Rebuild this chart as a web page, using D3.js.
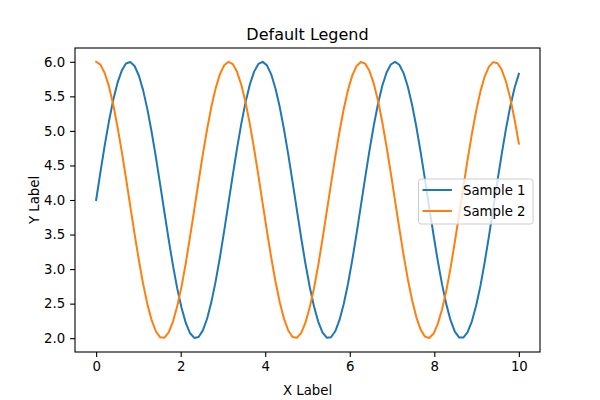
<!DOCTYPE html>
<html><head><meta charset="utf-8">
<script src="https://cdn.jsdelivr.net/npm/d3@7"></script>
<style>body{margin:0;background:#fff}svg{display:block;font-family:"DejaVu Sans",sans-serif}</style>
</head><body><svg id="c" width="600" height="400"></svg>
<script>
const seriesNames = ["Sample 1", "Sample 2"];
const colors = ["#1f77b4", "#ff7f0e"];
const xTicks = [0, 2, 4, 6, 8, 10];
const yTicks = [2.0, 2.5, 3.0, 3.5, 4.0, 4.5, 5.0, 5.5, 6.0];
const xStart = 0, xEnd = 10, nPoints = 100;
const sample1 = [4.000,4.401,4.786,5.139,5.446,5.695,5.873,5.976,5.998,5.939,
5.802,5.590,5.315,4.985,4.617,4.222,3.819,3.422,3.049,2.717,
2.441,2.221,2.071,2.004,2.018,2.113,2.285,2.526,2.826,3.175,
3.558,3.959,4.361,4.748,5.105,5.417,5.671,5.858,5.969,5.999,
5.949,5.819,5.615,5.345,5.021,4.656,4.263,3.860,3.461,3.085,
2.749,2.467,2.240,2.083,2.007,2.013,2.100,2.264,2.498,2.792,
3.137,3.517,3.918,4.320,4.710,5.071,5.388,5.649,5.842,5.961,
6.000,5.958,5.836,5.639,5.375,5.056,4.694,4.303,3.901,3.501,
3.122,2.782,2.493,2.260,2.095,2.011,2.009,2.088,2.244,2.472,
2.757,3.101,3.478,3.877,4.280,4.671,5.036,5.358,5.625,5.826];
const sample2 = [6.000,5.959,5.839,5.644,5.382,5.062,4.701,4.312,3.909,3.511,
3.132,2.787,2.493,2.260,2.097,2.012,2.008,2.085,2.241,2.465,
2.747,3.087,3.471,3.868,4.271,4.663,5.028,5.352,5.619,5.822,
5.951,6.000,5.967,5.855,5.667,5.411,5.098,4.740,4.353,3.950,
3.551,3.168,2.821,2.520,2.280,2.111,2.017,2.005,2.074,2.221,
2.439,2.716,3.050,3.431,3.827,4.230,4.624,4.992,5.320,5.595,
5.804,5.941,5.998,5.974,5.870,5.689,5.440,5.132,4.778,4.394,
3.992,3.591,3.206,2.854,2.548,2.302,2.124,2.023,2.002,2.063,
2.203,2.414,2.685,3.014,3.392,3.786,4.190,4.585,4.957,5.290,
5.570,5.787,5.931,5.996,5.980,5.884,5.711,5.468,5.166,4.816];

const svg = d3.select("#c");
const L = 75, R = 540, T = 48, B = 352;
const x = d3.scaleLinear().domain([-0.5, 10.5]).range([L, R]);
const y = d3.scaleLinear().domain([1.8, 6.2]).range([B, T]);
const xs = d3.range(nPoints).map(i => xStart + (xEnd - xStart) * i / (nPoints - 1));

const xAxis = svg.append("g").attr("transform", `translate(0,${B})`)
  .call(d3.axisBottom(x).tickValues(xTicks).tickFormat(d3.format("d")).tickSizeOuter(0).tickSize(4.9).tickPadding(4.9));
const yAxis = svg.append("g").attr("transform", `translate(${L},0)`)
  .call(d3.axisLeft(y).tickValues(yTicks).tickFormat(d3.format(".1f")).tickSizeOuter(0).tickSize(4.9).tickPadding(4.9));
[xAxis, yAxis].forEach(g => {
  g.select(".domain").remove();
  g.selectAll("line").attr("stroke", "#000").attr("stroke-width", 1.1);
  g.selectAll("text").attr("font-size", "13.3px").attr("fill", "#000").attr("font-family", "DejaVu Sans");
});

const line = d3.line().x((d, i) => x(xs[i])).y(d => y(d));
[sample1, sample2].forEach((s, k) => {
  svg.append("path").datum(s).attr("d", line).attr("fill", "none")
    .attr("stroke", colors[k]).attr("stroke-width", 2).attr("stroke-linejoin", "round").attr("stroke-linecap", "square");
});

svg.append("rect").attr("x", L).attr("y", T).attr("width", R - L).attr("height", B - T)
  .attr("fill", "none").attr("stroke", "#000").attr("stroke-width", 1.1);

svg.append("text").attr("x", (L + R) / 2).attr("y", T - 8).attr("text-anchor", "middle")
  .attr("font-size", "16px").text("Default Legend");
svg.append("text").attr("x", (L + R) / 2).attr("y", 395).attr("text-anchor", "middle")
  .attr("font-size", "13.3px").text("X Label");
svg.append("text").attr("transform", `translate(39,${(T + B) / 2}) rotate(-90)`).attr("text-anchor", "middle")
  .attr("font-size", "13.3px").text("Y Label");

const lg = svg.append("g");
const lgW = 114.5, lgH = 45, lgX = 418.5, lgY = 179;
lg.append("rect").attr("x", lgX).attr("y", lgY).attr("width", lgW).attr("height", lgH).attr("rx", 2.5)
  .attr("fill", "#fff").attr("fill-opacity", 0.8).attr("stroke", "#cccccc").attr("stroke-width", 1);
seriesNames.forEach((n, k) => {
  const cy = lgY + 11 + k * 21;
  lg.append("line").attr("x1", lgX + 4).attr("x2", lgX + 33.5).attr("y1", cy).attr("y2", cy)
    .attr("stroke", colors[k]).attr("stroke-width", 2);
  lg.append("text").attr("x", lgX + 44.5).attr("y", cy).attr("dy", "0.35em").attr("font-size", "13.3px").text(n);
});
</script></body></html>
